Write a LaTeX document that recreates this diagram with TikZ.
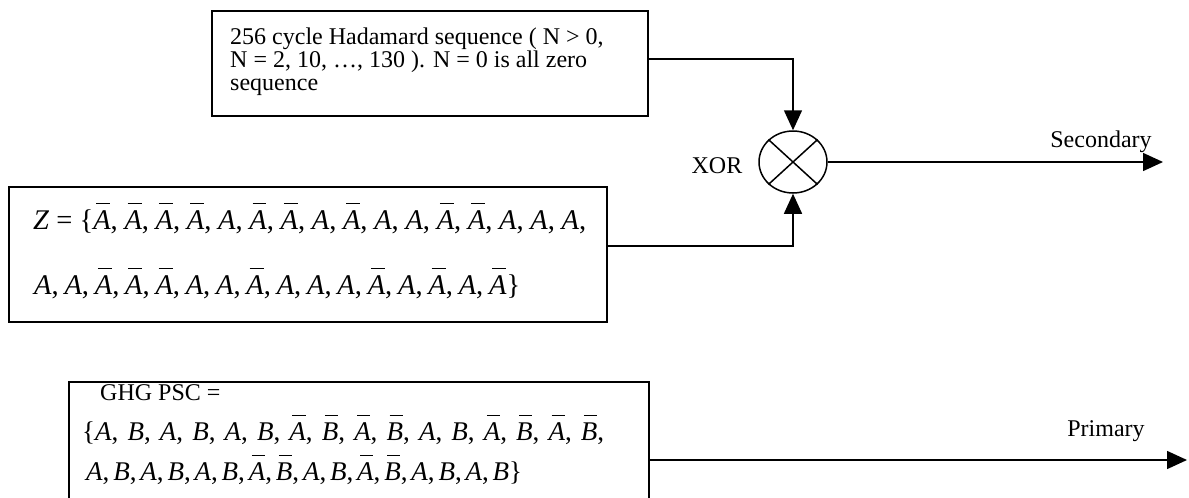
\documentclass[tikz,border=0pt]{standalone}
\usepackage{fontspec}
\setmainfont{Liberation Serif}
\usetikzlibrary{arrows.meta,shapes.geometric}

% sequence symbols: plain and complemented (overlined) italic letters
\newcommand{\iA}{\textit{A}}
\newcommand{\iB}{\textit{B}}
\newcommand{\ovl}[1]{\leavevmode\setbox0\hbox{\itshape #1}%
  \rlap{\hskip0.18\wd0\raise\dimexpr\ht0+6pt\relax\hbox{\rule{0.8\wd0}{1.4pt}}}\box0}
\newcommand{\nA}{\ovl{A}}
\newcommand{\nB}{\ovl{B}}
% separator between sequence elements, stretched to fill the line
\newcommand{\sep}{\hspace{0pt plus 1fil}}

\tikzset{
  box/.style={draw, line width=1.5pt, rectangle, inner sep=0pt},
  lbl/.style={font=\fontsize{24}{24}\selectfont, inner sep=0pt},
  seq/.style={font=\fontsize{28.5}{30}\selectfont, inner sep=0pt, anchor=base west},
  seqs/.style={font=\fontsize{27}{28}\selectfont, inner sep=0pt, anchor=base west},
  wire/.style={line width=1.5pt},
  flow/.style={line width=1.5pt, -{Triangle[length=20pt,width=18pt]}}
}

\begin{document}
\begin{tikzpicture}[x={(1pt,0)}, y={(0,-1pt)}]
  \useasboundingbox (0,0) rectangle (1189,498);
  \clip (0,0) rectangle (1189,498);

  % Hadamard sequence box
  \node[box, minimum width=436pt, minimum height=105pt] (hada) at (430,63.5) {};
  \node[lbl, anchor=base west] (hada1) at (230,44) {256 cycle Hadamard sequence ( N > 0,};
  \node[lbl, anchor=base west] (hada2) at (230,67) {N = 2, 10, …, 130 ). N = 0 is all zero};
  \node[lbl, anchor=base west] (hada3) at (230,90) {sequence};

  % Z sequence box
  \node[box, minimum width=598pt, minimum height=135pt] (zbox) at (308,254.5) {};
  \node[seq] (z1) at (33,229) {\makebox[553pt][s]{\textit{Z} = \{\nA,\sep\nA,\sep\nA,\sep\nA,\sep\iA,\sep\nA,\sep\nA,\sep\iA,\sep\nA,\sep\iA,\sep\iA,\sep\nA,\sep\nA,\sep\iA,\sep\iA,\sep\iA,}};
  \node[seq] (z2) at (34,294) {\makebox[486pt][s]{\iA,\sep\iA,\sep\nA,\sep\nA,\sep\nA,\sep\iA,\sep\iA,\sep\nA,\sep\iA,\sep\iA,\sep\iA,\sep\nA,\sep\iA,\sep\nA,\sep\iA,\sep\nA\}}};

  % XOR combiner
  \node[draw, ellipse, line width=1.5pt, minimum width=68pt, minimum height=62pt, inner sep=0pt] (xor) at (793,162) {};
  \draw[wire] (xor.north east) -- (xor.south west);
  \draw[wire] (xor.north west) -- (xor.south east);
  \node[lbl] (xorlbl) at (717,166) {XOR};

  % GHG primary synchronisation code box
  \node[box, anchor=north west, minimum width=580pt, minimum height=140pt] (ghg) at (68,381) {};
  \node[lbl, anchor=base west] (ghghead) at (100,400) {GHG PSC =};
  \node[seqs] (g1) at (82,440) {\makebox[522pt][s]{\{\iA,\sep\iB,\sep\iA,\sep\iB,\sep\iA,\sep\iB,\sep\nA,\sep\nB,\sep\nA,\sep\nB,\sep\iA,\sep\iB,\sep\nA,\sep\nB,\sep\nA,\sep\nB,}};
  \node[seqs] (g2) at (86,480) {\makebox[436pt][s]{\iA,\sep\iB,\sep\iA,\sep\iB,\sep\iA,\sep\iB,\sep\nA,\sep\nB,\sep\iA,\sep\iB,\sep\nA,\sep\nB,\sep\iA,\sep\iB,\sep\iA,\sep\iB\}}};

  % outputs
  \coordinate (sout) at (1163,162);
  \coordinate (pout) at (1187,460);
  \node[lbl, anchor=base] (seclbl) at (1101,147) {Secondary};
  \node[lbl, anchor=base] (prilbl) at (1106,436) {Primary};

  % connectors
  \draw[flow] ([yshift=4.5pt]hada.east) -| (xor.north);
  \draw[flow] ([yshift=8.5pt]zbox.east) -| (xor.south);
  \draw[flow] (xor.east) -- (sout);
  \draw[flow] ([yshift=-79pt]ghg.north east) -- (pout);
\end{tikzpicture}
\end{document}
